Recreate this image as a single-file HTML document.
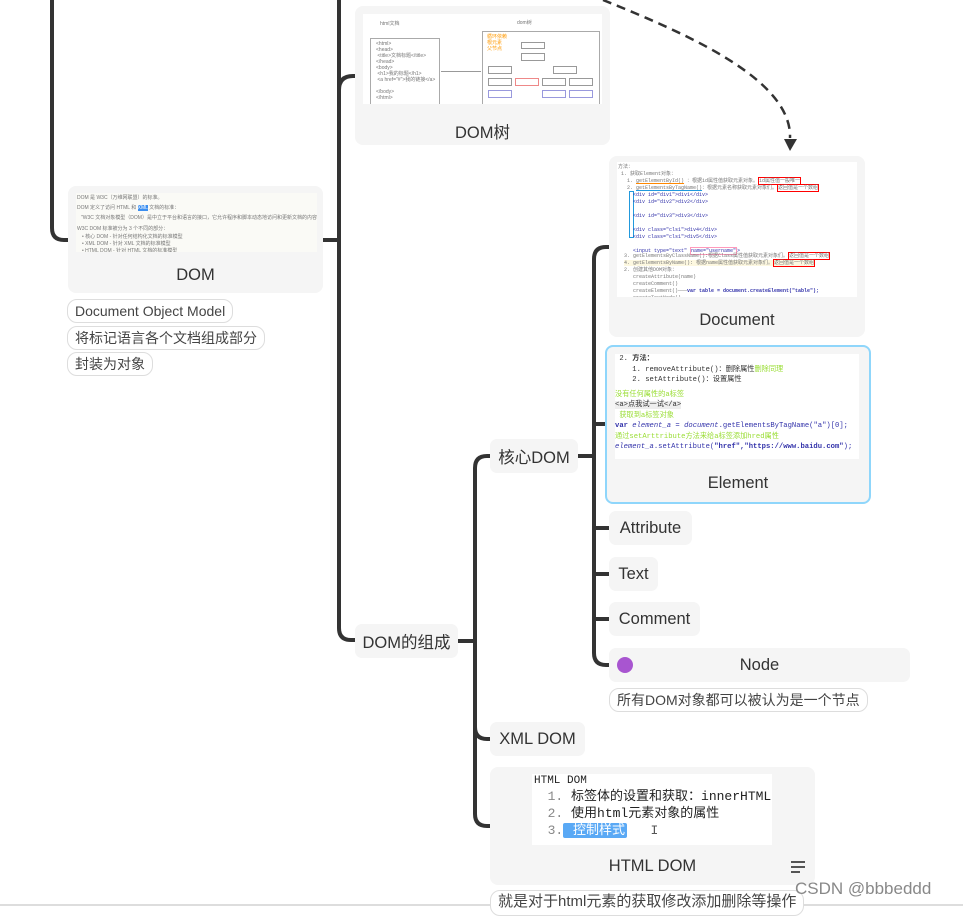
<!DOCTYPE html>
<html><head><meta charset="utf-8"><style>
*{margin:0;padding:0;box-sizing:border-box}
body{width:963px;height:907px;background:#fff;position:relative;overflow:hidden;font-family:"Liberation Sans","Noto Sans CJK SC",sans-serif;color:#333}
.a{position:absolute}
.box{position:absolute;background:#f5f5f5;border-radius:8px}
.lbl{position:absolute;font-size:16.5px;display:flex;align-items:center;justify-content:center;background:#f5f5f5;border-radius:7px}
.note{position:absolute;font-size:14px;border:1px solid #ddd;border-radius:10px;background:#fff;padding:0 7px;height:24px;line-height:22px;color:#444}
.img{position:absolute;background:#fff;overflow:hidden}
.t{position:absolute;font-size:16.5px;text-align:center;width:100%}
.s{font-size:5px;color:#777;white-space:nowrap;position:absolute}
.m{font-family:"Liberation Mono","Noto Sans CJK SC",monospace}
</style></head><body>
<svg class="a" style="left:0;top:0" width="963" height="907">
<g fill="none" stroke="#333" stroke-width="4">
<path d="M52,0 V228 Q52,240 64,240 H70"/>
<path d="M321,240 H339"/>
<path d="M339,0 V628 Q339,640 351,640 H357"/>
<path d="M339,90 Q339,76 353,76 H357"/>
<path d="M456,641 H475"/>
<path d="M492,456 H487 Q475,456 475,468 V814 Q475,826 487,826 H492"/>
<path d="M475,727 Q475,739 487,739 H492"/>
<path d="M576,456 H594"/>
<path d="M611,247 H606 Q594,247 594,259 V653 Q594,665 606,665 H611"/>
<path d="M594,424 H608"/>
<path d="M594,528 H611"/>
<path d="M594,574 H611"/>
<path d="M594,619 H611"/>
</g>
<path d="M603,0 C690,35 792,80 790,138" fill="none" stroke="#333" stroke-width="2.5" stroke-dasharray="9,6"/>
<path d="M784,139 L797,139 L790,151 Z" fill="#333"/>
<line x1="0" y1="905" x2="963" y2="905" stroke="#ddd" stroke-width="2"/>
</svg>

<!-- DOM树 -->
<div class="box" style="left:355px;top:6px;width:255px;height:139px">
 <div class="img" style="left:8px;top:8px;width:239px;height:90px">
  <div class="s" style="left:17px;top:6px">html文档</div>
  <div class="a" style="left:7px;top:24px;width:70px;height:67px;border:1px solid #aaa"></div>
  <div class="s" style="left:13px;top:27px;line-height:6px">&lt;html&gt;<br>&lt;head&gt;<br>&nbsp;&lt;title&gt;文档标题&lt;/title&gt;<br>&lt;/head&gt;<br>&lt;body&gt;<br>&nbsp;&lt;h1&gt;我的标题&lt;/h1&gt;<br>&nbsp;&lt;a href="#"&gt;我的链接&lt;/a&gt;<br><br>&lt;/body&gt;<br>&lt;/html&gt;</div>
  <div class="a" style="left:78px;top:57px;width:40px;height:1px;background:#999"></div>
  <div class="s" style="left:154px;top:5px">dom树</div>
  <div class="a" style="left:119px;top:17px;width:118px;height:76px;border:1px solid #aaa"></div>
  <div class="a" style="left:158px;top:28px;width:24px;height:7px;border:1px solid #999"></div>
  <div class="a" style="left:158px;top:39px;width:24px;height:8px;border:1px solid #999"></div>
  <div class="a" style="left:125px;top:52px;width:24px;height:8px;border:1px solid #999"></div>
  <div class="a" style="left:190px;top:52px;width:24px;height:8px;border:1px solid #999"></div>
  <div class="a" style="left:125px;top:64px;width:24px;height:8px;border:1px solid #999"></div>
  <div class="a" style="left:152px;top:64px;width:24px;height:8px;border:1px solid #e88"></div>
  <div class="a" style="left:179px;top:64px;width:24px;height:8px;border:1px solid #999"></div>
  <div class="a" style="left:206px;top:64px;width:24px;height:8px;border:1px solid #999"></div>
  <div class="a" style="left:125px;top:76px;width:24px;height:8px;border:1px solid #99d"></div>
  <div class="a" style="left:179px;top:76px;width:24px;height:8px;border:1px solid #99d"></div>
  <div class="a" style="left:206px;top:76px;width:24px;height:8px;border:1px solid #99d"></div>
  <div class="s" style="left:124px;top:20px;color:#f90;line-height:6px">循环依赖<br>根元素<br>父节点</div>
 </div>
 <div class="t" style="top:113px">DOM树</div>
</div>

<!-- DOM -->
<div class="box" style="left:68px;top:186px;width:255px;height:107px">
 <div class="img" style="left:8px;top:7px;width:241px;height:59px;background:#fafaf6">
  <div class="s" style="left:1px;top:1px">DOM 是 W3C（万维网联盟）的标准。</div>
  <div class="s" style="left:1px;top:11px">DOM 定义了访问 HTML 和 <span style="background:#3b8ef0;color:#fff">XML</span> 文档的标准：</div>
  <div class="s" style="left:5px;top:21px">"W3C 文档对象模型（DOM）是中立于平台和语言的接口，它允许程序和脚本动态地访问和更新文档的内容、结构和样式。"</div>
  <div class="s" style="left:1px;top:32px">W3C DOM 标准被分为 3 个不同的部分：</div>
  <div class="s" style="left:6px;top:41px;line-height:7px">• 核心 DOM - 针对任何结构化文档的标准模型<br>• XML DOM - 针对 XML 文档的标准模型<br>• HTML DOM - 针对 HTML 文档的标准模型</div>
 </div>
 <div class="t" style="top:80px">DOM</div>
</div>
<div class="note" style="left:67px;top:299px">Document Object Model</div>
<div class="note" style="left:67px;top:326px">将标记语言各个文档组成部分</div>
<div class="note" style="left:67px;top:352px">封装为对象</div>

<div class="lbl" style="left:355px;top:624px;width:103px;height:34px">DOM的组成</div>
<div class="lbl" style="left:490px;top:439px;width:88px;height:34px">核心DOM</div>
<div class="lbl" style="left:490px;top:722px;width:95px;height:34px">XML DOM</div>

<!-- Document -->
<div class="box" style="left:609px;top:156px;width:256px;height:181px">
 <div class="img" style="left:8px;top:6px;width:240px;height:135px">
  <div class="s m" style="left:1px;top:2px;line-height:7px">方法：<br>&nbsp;1. 获取Element对象：<br>&nbsp;&nbsp;&nbsp;1. <span style="text-decoration:underline #f80">getElementById()</span> ：根据id属性值获取元素对象。<span style="border:1px solid red">id属性值一般唯一</span><br>&nbsp;&nbsp;&nbsp;2. <span style="text-decoration:underline #29d">getElementsByTagName()</span>：根据元素名称获取元素对象们。<span style="border:1px solid red">返回值是一个数组</span></div>
  <div class="a" style="left:12px;top:29px;width:5px;height:47px;border:1px solid #29d"></div>
  <div class="s m" style="left:16px;top:30px;color:#33a;line-height:7px">&lt;div id="div1"&gt;div1&lt;/div&gt;<br>&lt;div id="div2"&gt;div2&lt;/div&gt;<br><br>&lt;div id="div3"&gt;div3&lt;/div&gt;<br><br>&lt;div class="cls1"&gt;div4&lt;/div&gt;<br>&lt;div class="cls1"&gt;div5&lt;/div&gt;<br><br>&lt;input type="text" <span style="border:1px solid #f9b">name="username"</span>&gt;</div>
  <div class="s m" style="left:7px;top:91px;line-height:7px">3. getElementsByClassName():根据Class属性值获取元素对象们。<span style="border:1px solid red">返回值是一个数组</span><br><span style="background:#fdf8e0">4. getElementsByName(): 根据name属性值获取元素对象们。<span style="border:1px solid red">返回值是一个数组</span></span><br>2. 创建其他DOM对象：<br>&nbsp;&nbsp;&nbsp;createAttribute(name)<br>&nbsp;&nbsp;&nbsp;createComment()<br>&nbsp;&nbsp;&nbsp;createElement()———<b style="color:#33a">var table = document.createElement("table");</b><br>&nbsp;&nbsp;&nbsp;createTextNode()</div>
 </div>
 <div class="t" style="top:155px">Document</div>
</div>

<!-- Element -->
<div class="box" style="left:605px;top:345px;width:266px;height:159px;border:2px solid #8fd6fb">
 <div class="img m" style="left:8px;top:7px;width:244px;height:105px;font-size:7.2px;line-height:10.5px;color:#333;white-space:nowrap">
  <div>&nbsp;2. <b>方法：</b></div>
  <div>&nbsp;&nbsp;&nbsp;&nbsp;1. removeAttribute()：删除属性<span style="color:#9d3">删除同理</span></div>
  <div>&nbsp;&nbsp;&nbsp;&nbsp;2. setAttribute()：设置属性</div>
  <div style="color:#9d3;margin-top:4px">没有任何属性的a标签</div>
  <div><span style="background:#eee">&lt;a&gt;点我试一试&lt;/a&gt;</span></div>
  <div style="color:#9d3">&nbsp;获取到a标签对象</div>
  <div style="color:#33a"><b>var</b> <i>element_a</i> = <i>document</i>.getElementsByTagName("a")[0];</div>
  <div style="color:#9d3">通过setArttribute方法来给a标签添加hred属性</div>
  <div style="color:#33a"><i>element_a</i>.setAttribute(<b>"href","https://www.baidu.com"</b>);</div>
 </div>
 <div class="t" style="top:127px">Element</div>
</div>

<div class="lbl" style="left:609px;top:511px;width:83px;height:34px">Attribute</div>
<div class="lbl" style="left:609px;top:557px;width:49px;height:34px">Text</div>
<div class="lbl" style="left:609px;top:602px;width:91px;height:34px">Comment</div>
<div class="lbl" style="left:609px;top:648px;width:301px;height:34px">Node</div>
<div class="a" style="left:617px;top:657px;width:16px;height:16px;border-radius:50%;background:#a855d0"></div>
<div class="note" style="left:609px;top:688px;height:24px">所有DOM对象都可以被认为是一个节点</div>

<!-- HTML DOM -->
<div class="box" style="left:490px;top:767px;width:325px;height:118px">
 <div class="img m" style="left:42px;top:7px;width:240px;height:71px;font-size:13px;line-height:17px;color:#222;white-space:nowrap">
  <div style="font-size:11px;line-height:14px;padding-left:2px">HTML DOM</div>
  <div>&nbsp;&nbsp;<span style="color:#888">1.</span> 标签体的设置和获取：innerHTML</div>
  <div>&nbsp;&nbsp;<span style="color:#888">2.</span> 使用html元素对象的属性</div>
  <div>&nbsp;&nbsp;<span style="color:#888">3.</span><span style="background:#5aa9f5;color:#fff;border-radius:2px;padding:0 2px">&nbsp;控制样式</span>&nbsp;&nbsp;&nbsp;<span style="color:#555">I</span></div>
 </div>
 <div class="t" style="top:90px">HTML DOM</div>
 <div class="a" style="left:301px;top:94px;width:14px;height:2px;background:#555"></div>
 <div class="a" style="left:301px;top:99px;width:14px;height:2px;background:#555"></div>
 <div class="a" style="left:301px;top:104px;width:9px;height:2px;background:#555"></div>
</div>
<div class="note" style="left:490px;top:890px;height:26px;font-size:15px">就是对于html元素的获取修改添加删除等操作</div>
<div class="a" style="left:795px;top:879px;font-size:17px;color:#888">CSDN @bbbeddd</div>
</body></html>
